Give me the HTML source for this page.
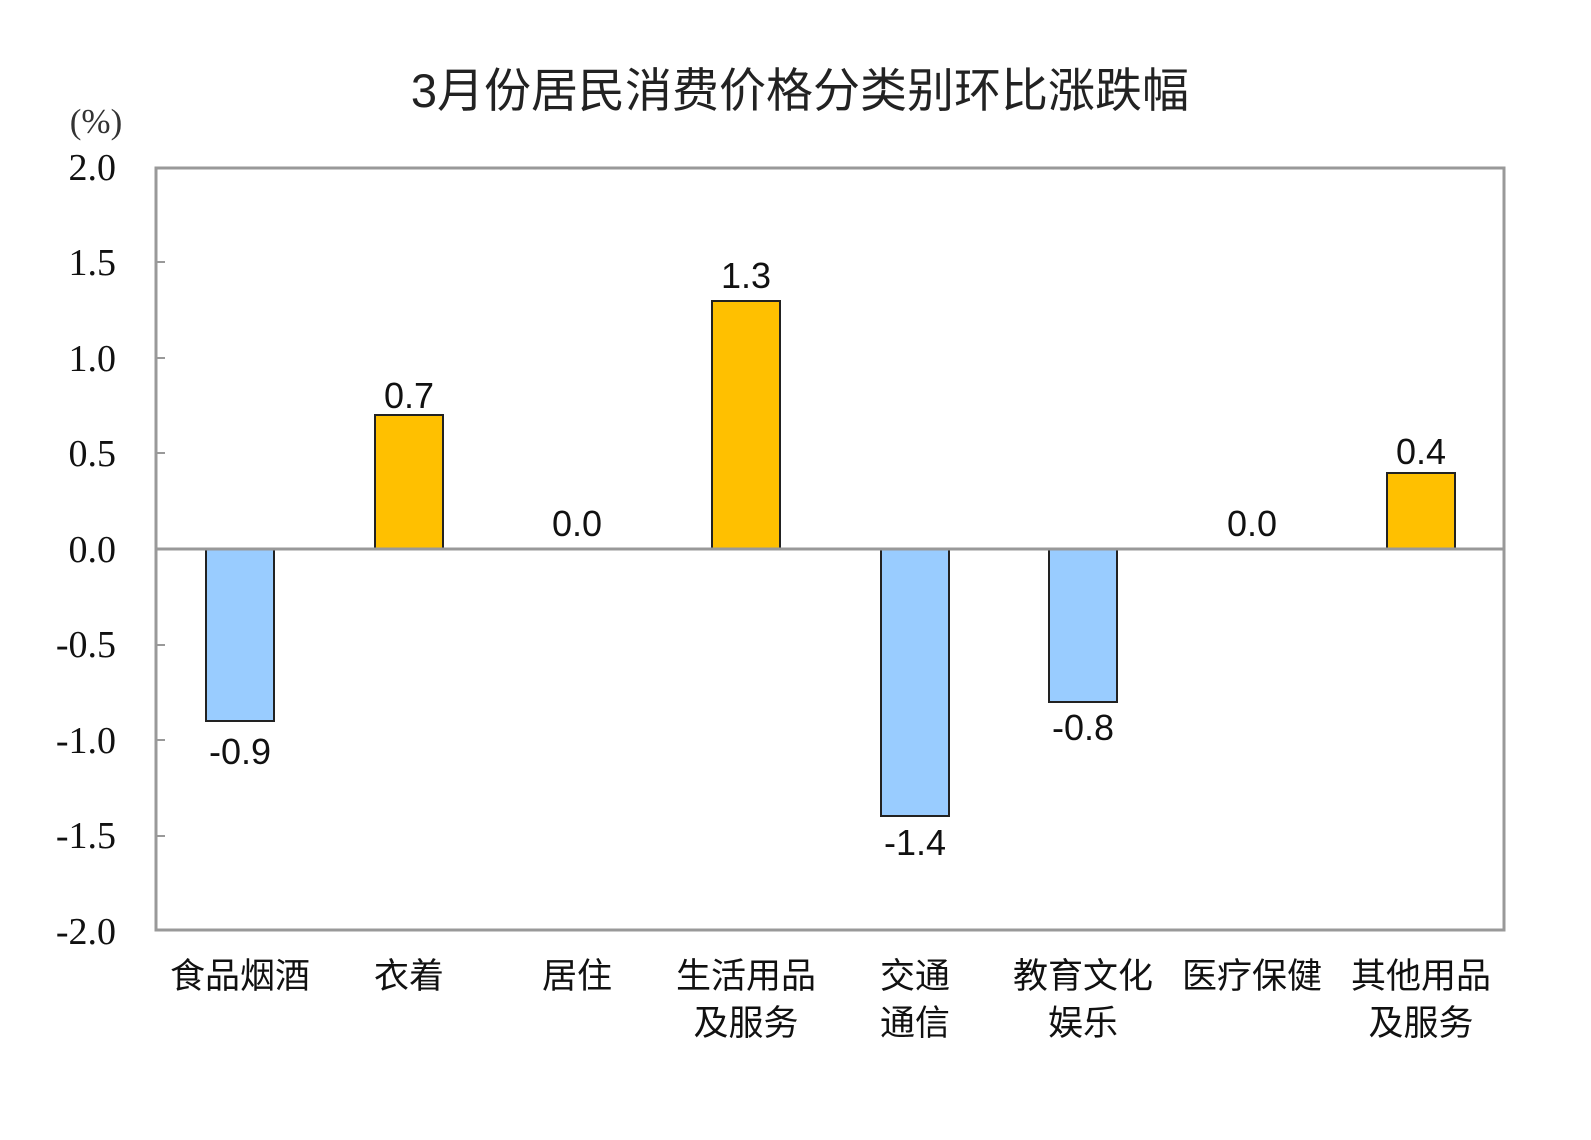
<!DOCTYPE html>
<html><head><meta charset="utf-8"><style>html,body{margin:0;padding:0;background:#fff}</style></head>
<body>
<svg width="1591" height="1135" xmlns="http://www.w3.org/2000/svg">
<rect width="1591" height="1135" fill="#fff"/>
<text x="800" y="107" text-anchor="middle" font-family="Liberation Sans, Noto Sans CJK SC, sans-serif" font-size="47" fill="#222">3月份居民消费价格分类别环比涨跌幅</text>
<text x="96" y="133" text-anchor="middle" font-family="Liberation Serif, serif" font-size="35" fill="#333">(%)</text>
<g font-family="Liberation Serif, serif" font-size="38" fill="#111" text-anchor="end">
<text x="116" y="180">2.0</text><text x="116" y="275">1.5</text><text x="116" y="371">1.0</text><text x="116" y="466">0.5</text><text x="116" y="562">0.0</text><text x="116" y="657">-0.5</text><text x="116" y="753">-1.0</text><text x="116" y="848">-1.5</text><text x="116" y="944">-2.0</text>
</g>
<g stroke="#999" stroke-width="2">
<line x1="155" y1="262" x2="165" y2="262"/><line x1="155" y1="358" x2="165" y2="358"/><line x1="155" y1="453" x2="165" y2="453"/><line x1="155" y1="645" x2="165" y2="645"/><line x1="155" y1="740" x2="165" y2="740"/><line x1="155" y1="836" x2="165" y2="836"/>
</g>
<g stroke="#222" stroke-width="2">
<rect x="206" y="549" width="68" height="172" fill="#99CCFF"/>
<rect x="375" y="415" width="68" height="134" fill="#FFC000"/>
<rect x="712" y="301" width="68" height="248" fill="#FFC000"/>
<rect x="881" y="549" width="68" height="267" fill="#99CCFF"/>
<rect x="1049" y="549" width="68" height="153" fill="#99CCFF"/>
<rect x="1387" y="473" width="68" height="76" fill="#FFC000"/>
</g>
<rect x="156" y="168" width="1348" height="762" fill="none" stroke="#999" stroke-width="3"/>
<line x1="156" y1="549" x2="1504" y2="549" stroke="#999" stroke-width="3"/>
<g font-family="Liberation Sans, sans-serif" font-size="36" fill="#111" text-anchor="middle">
<text x="240" y="764">-0.9</text>
<text x="409" y="408">0.7</text>
<text x="577" y="536">0.0</text>
<text x="746" y="288">1.3</text>
<text x="915" y="855">-1.4</text>
<text x="1083" y="740">-0.8</text>
<text x="1252" y="536">0.0</text>
<text x="1421" y="464">0.4</text>
</g>
<g font-family="Liberation Sans, Noto Sans CJK SC, sans-serif" font-size="35" fill="#111" text-anchor="middle">
<text x="240" y="988">食品烟酒</text>
<text x="409" y="988">衣着</text>
<text x="577" y="988">居住</text>
<text x="746" y="988">生活用品</text><text x="746" y="1035">及服务</text>
<text x="915" y="988">交通</text><text x="915" y="1035">通信</text>
<text x="1083" y="988">教育文化</text><text x="1083" y="1035">娱乐</text>
<text x="1252" y="988">医疗保健</text>
<text x="1421" y="988">其他用品</text><text x="1421" y="1035">及服务</text>
</g>
</svg>
</body></html>
